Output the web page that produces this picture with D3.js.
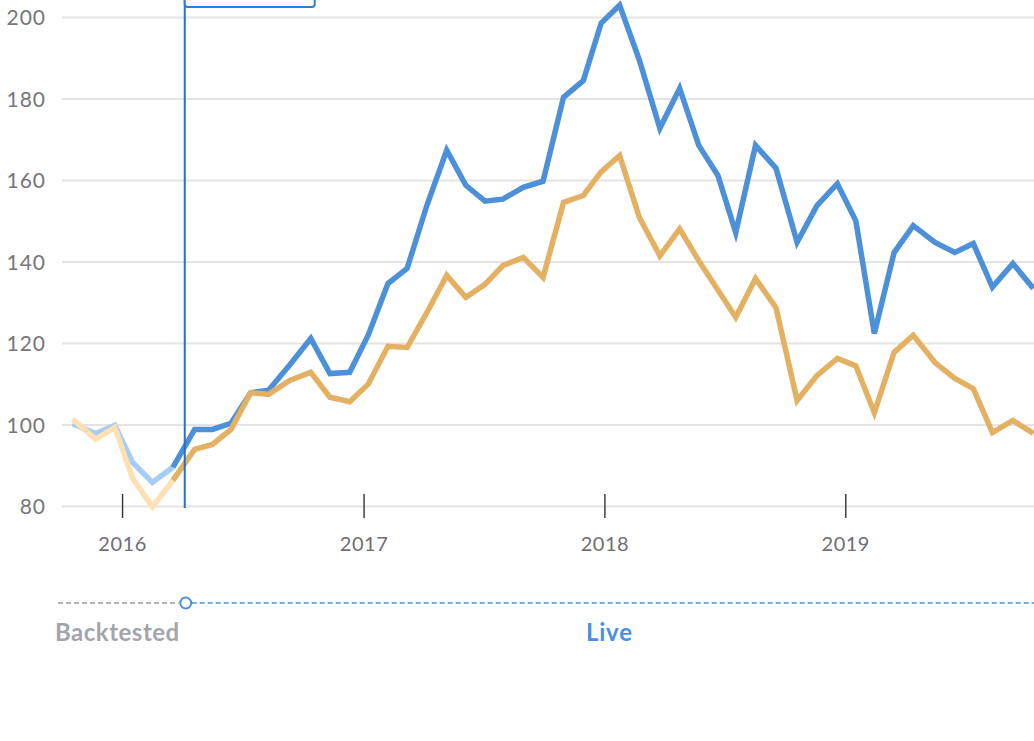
<!DOCTYPE html>
<html>
<head>
<meta charset="utf-8">
<script src="https://cdn.jsdelivr.net/npm/d3@7"></script>
<style>
  body { margin: 0; background: #fff; overflow: hidden; }
  text { font-family: Lato, "Open Sans", sans-serif; }
</style>
</head>
<body>
<div id="chart"></div>
<script>
const dates = ["2015-10-18","2015-11-22","2015-12-21","2016-01-17","2016-02-16","2016-03-18",
  "2016-04-20","2016-05-17","2016-06-14","2016-07-14","2016-08-10","2016-09-11","2016-10-13",
  "2016-11-11","2016-12-11","2017-01-08","2017-02-07","2017-03-08","2017-04-07","2017-05-07",
  "2017-06-05","2017-07-04","2017-07-31","2017-08-31","2017-09-30","2017-10-31","2017-11-30",
  "2017-12-27","2018-01-24","2018-02-23","2018-03-26","2018-04-25","2018-05-24","2018-06-22",
  "2018-07-19","2018-08-18","2018-09-18","2018-10-20","2018-11-19","2018-12-20","2019-01-17",
  "2019-02-14","2019-03-16","2019-04-14","2019-05-17","2019-06-16","2019-07-14","2019-08-12",
  "2019-09-12","2019-10-13"];

// blue series (strategy)
const strategy = [100.2, 97.8, 99.8, 90.7, 85.8, 89.5, 98.8, 98.8, 100.3, 107.8,
  108.4, 114.6, 121.1, 112.5, 112.8, 121.9, 134.6, 138.3, 153.8, 167.3,
  158.7, 154.8, 155.3, 158.2, 159.7, 180.3, 184.4, 198.5, 202.9, 189.4,
  172.7, 182.5, 168.5, 161.1, 147.1, 168.5, 162.9, 144.7, 153.7, 159.1,
  150, 122.3, 142.2, 148.8, 144.7, 142.2, 144.4, 133.7, 139.5, 133.4];

// orange series (benchmark)
const benchmark = [101.3, 96.4, 99.3, 86.8, 79.8, 86.3, 93.9, 95.1, 98.8, 107.8,
  107.4, 110.8, 112.8, 106.7, 105.6, 109.9, 119.2, 118.9, 127.5, 136.6,
  131.2, 134.4, 139, 141, 136.1, 154.5, 156.2, 162, 166, 150.8,
  141.4, 148, 140.2, 133, 126.3, 135.8, 128.7, 105.9, 112, 116.2,
  114.4, 102.9, 117.7, 121.9, 115.2, 111.3, 108.8, 98, 101, 97.8];

const liveStart = "2016-04-05";
const backtestEnd = 5; // last backtested index, the live line starts from it
const yTicks = [80, 100, 120, 140, 160, 180, 200];
const yearTicks = ["2016", "2017", "2018", "2019"];
const xDomain = ["2015-10-02", "2019-10-14"];

const W = 1034, H = 741;
const margin = {top: 17, right: 0, bottom: 235, left: 62};
const width = W - margin.left - margin.right,
      height = H - margin.top - margin.bottom;

const parse = d3.timeParse("%Y-%m-%d");
const data = dates.map((d, i) => ({date: parse(d), s: strategy[i], b: benchmark[i]}));

const svg = d3.select("#chart").append("svg")
    .attr("width", W)
    .attr("height", H);

const g = svg.append("g")
    .attr("transform", `translate(${margin.left},${margin.top})`);

const x = d3.scaleTime()
    .domain(xDomain.map(parse))
    .range([0, width]);

const y = d3.scaleLinear()
    .domain([80, 200])
    .range([height, 0]);

// y grid + labels
const yAxis = g.append("g")
    .call(d3.axisLeft(y).tickValues(yTicks).tickSize(-width).tickPadding(16));
yAxis.select(".domain").remove();
yAxis.selectAll("line").attr("stroke", "#e4e4e4").attr("stroke-width", 2);
yAxis.selectAll("text")
    .attr("fill", "#76767b")
    .style("font-size", "21px")
    .style("letter-spacing", "1px")
    .attr("dy", "0.36em");

// year ticks
const xAxis = g.append("g")
    .attr("transform", `translate(0,${height - 12})`)
    .call(d3.axisBottom(x).tickValues(yearTicks.map(t => parse(t + "-01-01")))
      .tickFormat(d3.timeFormat("%Y")).tickSize(24).tickPadding(19));
xAxis.select(".domain").remove();
xAxis.selectAll("line").attr("stroke", "#333").attr("stroke-width", 1.4);
xAxis.selectAll("text")
    .attr("fill", "#6e6e73")
    .style("font-size", "20px")
    .style("letter-spacing", "0.5px");

const line = key => d3.line().x(d => x(d.date)).y(d => y(d[key]));

const back = data.slice(0, backtestEnd + 1);
const live = data.slice(backtestEnd);

const paths = [
  {rows: back, key: "s", color: "#a6cdf7"},
  {rows: back, key: "b", color: "#fde0b4"},
  {rows: live, key: "s", color: "#4b90d8"},
  {rows: live, key: "b", color: "#e4b062"}
];
g.selectAll(".series")
  .data(paths)
  .join("path")
    .attr("class", "series")
    .attr("fill", "none")
    .attr("stroke", d => d.color)
    .attr("stroke-width", 5.5)
    .attr("stroke-linejoin", "miter")
    .attr("d", d => line(d.key)(d.rows));

// live marker line and tooltip box
const xl = x(parse(liveStart));
g.append("line")
    .attr("x1", xl).attr("x2", xl)
    .attr("y1", -margin.top).attr("y2", height + 2)
    .attr("stroke", "#1e70d8")
    .attr("stroke-width", 2);

g.append("rect")
    .attr("x", xl).attr("y", -margin.top + 7 - 30)
    .attr("width", 130).attr("height", 30)
    .attr("rx", 3)
    .attr("fill", "#fff")
    .attr("stroke", "#2b7fe0")
    .attr("stroke-width", 2);

// backtested / live timeline
const ty = 586;
g.append("line")
    .attr("x1", 58 - margin.left).attr("x2", xl - 6)
    .attr("y1", ty).attr("y2", ty)
    .attr("stroke", "#9a9a9a").attr("stroke-width", 1.5)
    .attr("stroke-dasharray", "5,3");
g.append("line")
    .attr("x1", xl + 7).attr("x2", width)
    .attr("y1", ty).attr("y2", ty)
    .attr("stroke", "#4a90e2").attr("stroke-width", 1.5)
    .attr("stroke-dasharray", "5,3");
g.append("circle")
    .attr("cx", xl + 1).attr("cy", ty)
    .attr("r", 5.5)
    .attr("fill", "#fff")
    .attr("stroke", "#4a90e2")
    .attr("stroke-width", 2);

g.append("text")
    .attr("x", 55 - margin.left).attr("y", ty + 38)
    .attr("fill", "#a2a5a9")
    .style("font-size", "24px")
    .style("font-weight", "bold")
    .style("letter-spacing", "0.5px")
    .text("Backtested");

g.append("text")
    .attr("x", (xl + width) / 2).attr("y", ty + 38)
    .attr("text-anchor", "middle")
    .attr("fill", "#4a90e2")
    .style("font-size", "24px")
    .style("font-weight", "bold")
    .style("letter-spacing", "0.8px")
    .text("Live");
</script>
</body>
</html>
